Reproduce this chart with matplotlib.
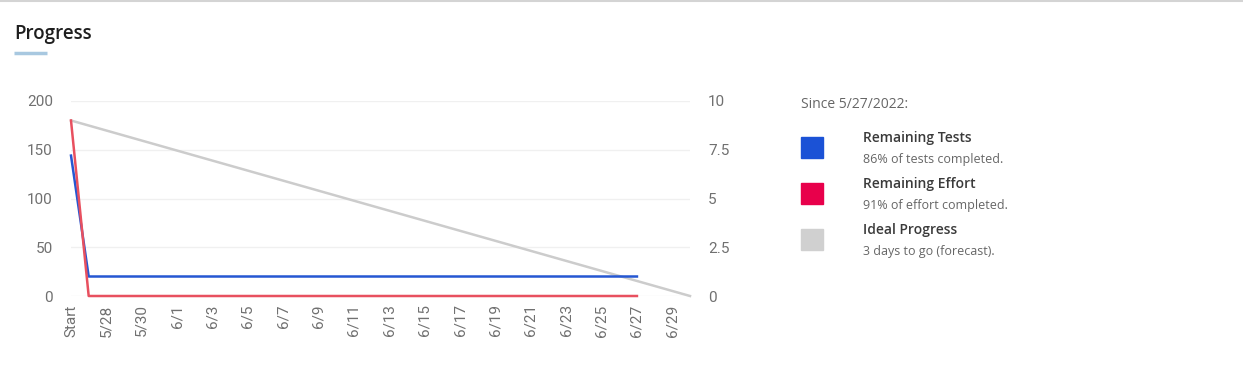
import matplotlib
matplotlib.use("Agg")
import matplotlib.pyplot as plt
from matplotlib.patches import Rectangle
from matplotlib.lines import Line2D
import datetime as dt

# categories: "Start" followed by every day from 5/27 to 6/30
days = [dt.date(2022, 5, 27) + dt.timedelta(days=i) for i in range(35)]
categories = ["Start"] + [f"{d.month}/{d.day}" for d in days]

# series values (left axis); tests/effort stop at 6/27
remaining_tests = [144] + [20] * 32
remaining_effort = [180] + [0] * 32
ideal_progress = [180, 0]
ideal_index = [0, len(categories) - 1]

left_ticks = [0, 50, 100, 150, 200]
right_ticks = [0, 2.5, 5, 7.5, 10]
right_labels = ["0", "2.5", "5", "7.5", "10"]

legend_items = [
    ("Remaining Tests", "86% of tests completed.", "#1b52d6"),
    ("Remaining Effort", "91% of effort completed.", "#e8004b"),
    ("Ideal Progress", "3 days to go (forecast).", "#d0d0d0"),
]

TICK_COLOR = "#707070"
W, H = 1243, 383

fig = plt.figure(figsize=(W / 100, H / 100), dpi=100)
ax = fig.add_axes([71 / W, 1 - 296 / H, 619 / W, 195 / H])

x = list(range(len(categories)))
ax.plot(ideal_index, ideal_progress, color="#cccccc", lw=1.8, zorder=2, clip_on=False)
ax.plot(x[:len(remaining_tests)], remaining_tests, color="#2557d2", lw=1.8, zorder=3,
        clip_on=False)
ax.plot(x[:len(remaining_effort)], remaining_effort, color="#e8505f", lw=1.8, zorder=4,
        clip_on=False)

ax.set_xlim(0, len(categories) - 1)
ax.set_ylim(0, 200)
ax.set_yticks(left_ticks)
ax.grid(axis="y", color="#f0f0f0", lw=1)
ax.set_axisbelow(True)
for s in ax.spines.values():
    s.set_visible(False)

tick_pos = [i for i in x if i % 2 == 0]
ax.set_xticks(tick_pos)
ax.set_xticklabels([categories[i] for i in tick_pos], rotation=90,
                   family="Roboto", fontsize=11, color=TICK_COLOR)
ax.tick_params(axis="x", length=0, pad=6)
ax.tick_params(axis="y", length=0, pad=13, labelsize=11, labelcolor=TICK_COLOR)
for lbl in ax.get_yticklabels():
    lbl.set_family("Roboto")

ax2 = ax.twinx()
ax2.set_ylim(0, 10)
ax2.set_yticks(right_ticks)
ax2.set_yticklabels(right_labels, family="Roboto", fontsize=11, color=TICK_COLOR)
ax2.tick_params(axis="y", length=0, pad=13)
for s in ax2.spines.values():
    s.set_visible(False)

# header
fig.add_artist(Line2D([0, 1], [1 - 1 / H, 1 - 1 / H], color="#d4d4d4", lw=1.5))
fig.text(14 / W, 1 - 34 / H, "Progress", family="Open Sans", fontsize=13.5,
         fontweight="semibold", color="#1e1e1e", va="center", ha="left")
fig.add_artist(Line2D([14 / W, 47 / W], [1 - 53 / H, 1 - 53 / H],
                      color="#a8c8e0", lw=2.5, solid_capstyle="butt"))

# legend panel
fig.text(801 / W, 1 - 104 / H, "Since 5/27/2022:", family="Open Sans", fontsize=10,
         color="#666666", va="center", ha="left")
for i, (name, sub, color) in enumerate(legend_items):
    top = 137 + i * 46
    fig.add_artist(Rectangle((801 / W, 1 - (top + 21) / H), 22 / W, 21 / H,
                             color=color, transform=fig.transFigure))
    fig.text(863 / W, 1 - (top + 1) / H, name, family="Open Sans", fontsize=10,
             fontweight="semibold", color="#3a3a3a", va="center", ha="left")
    fig.text(863 / W, 1 - (top + 22) / H, sub, family="Open Sans", fontsize=9,
             color="#666666", va="center", ha="left")

fig.savefig("out.png", dpi=100)
